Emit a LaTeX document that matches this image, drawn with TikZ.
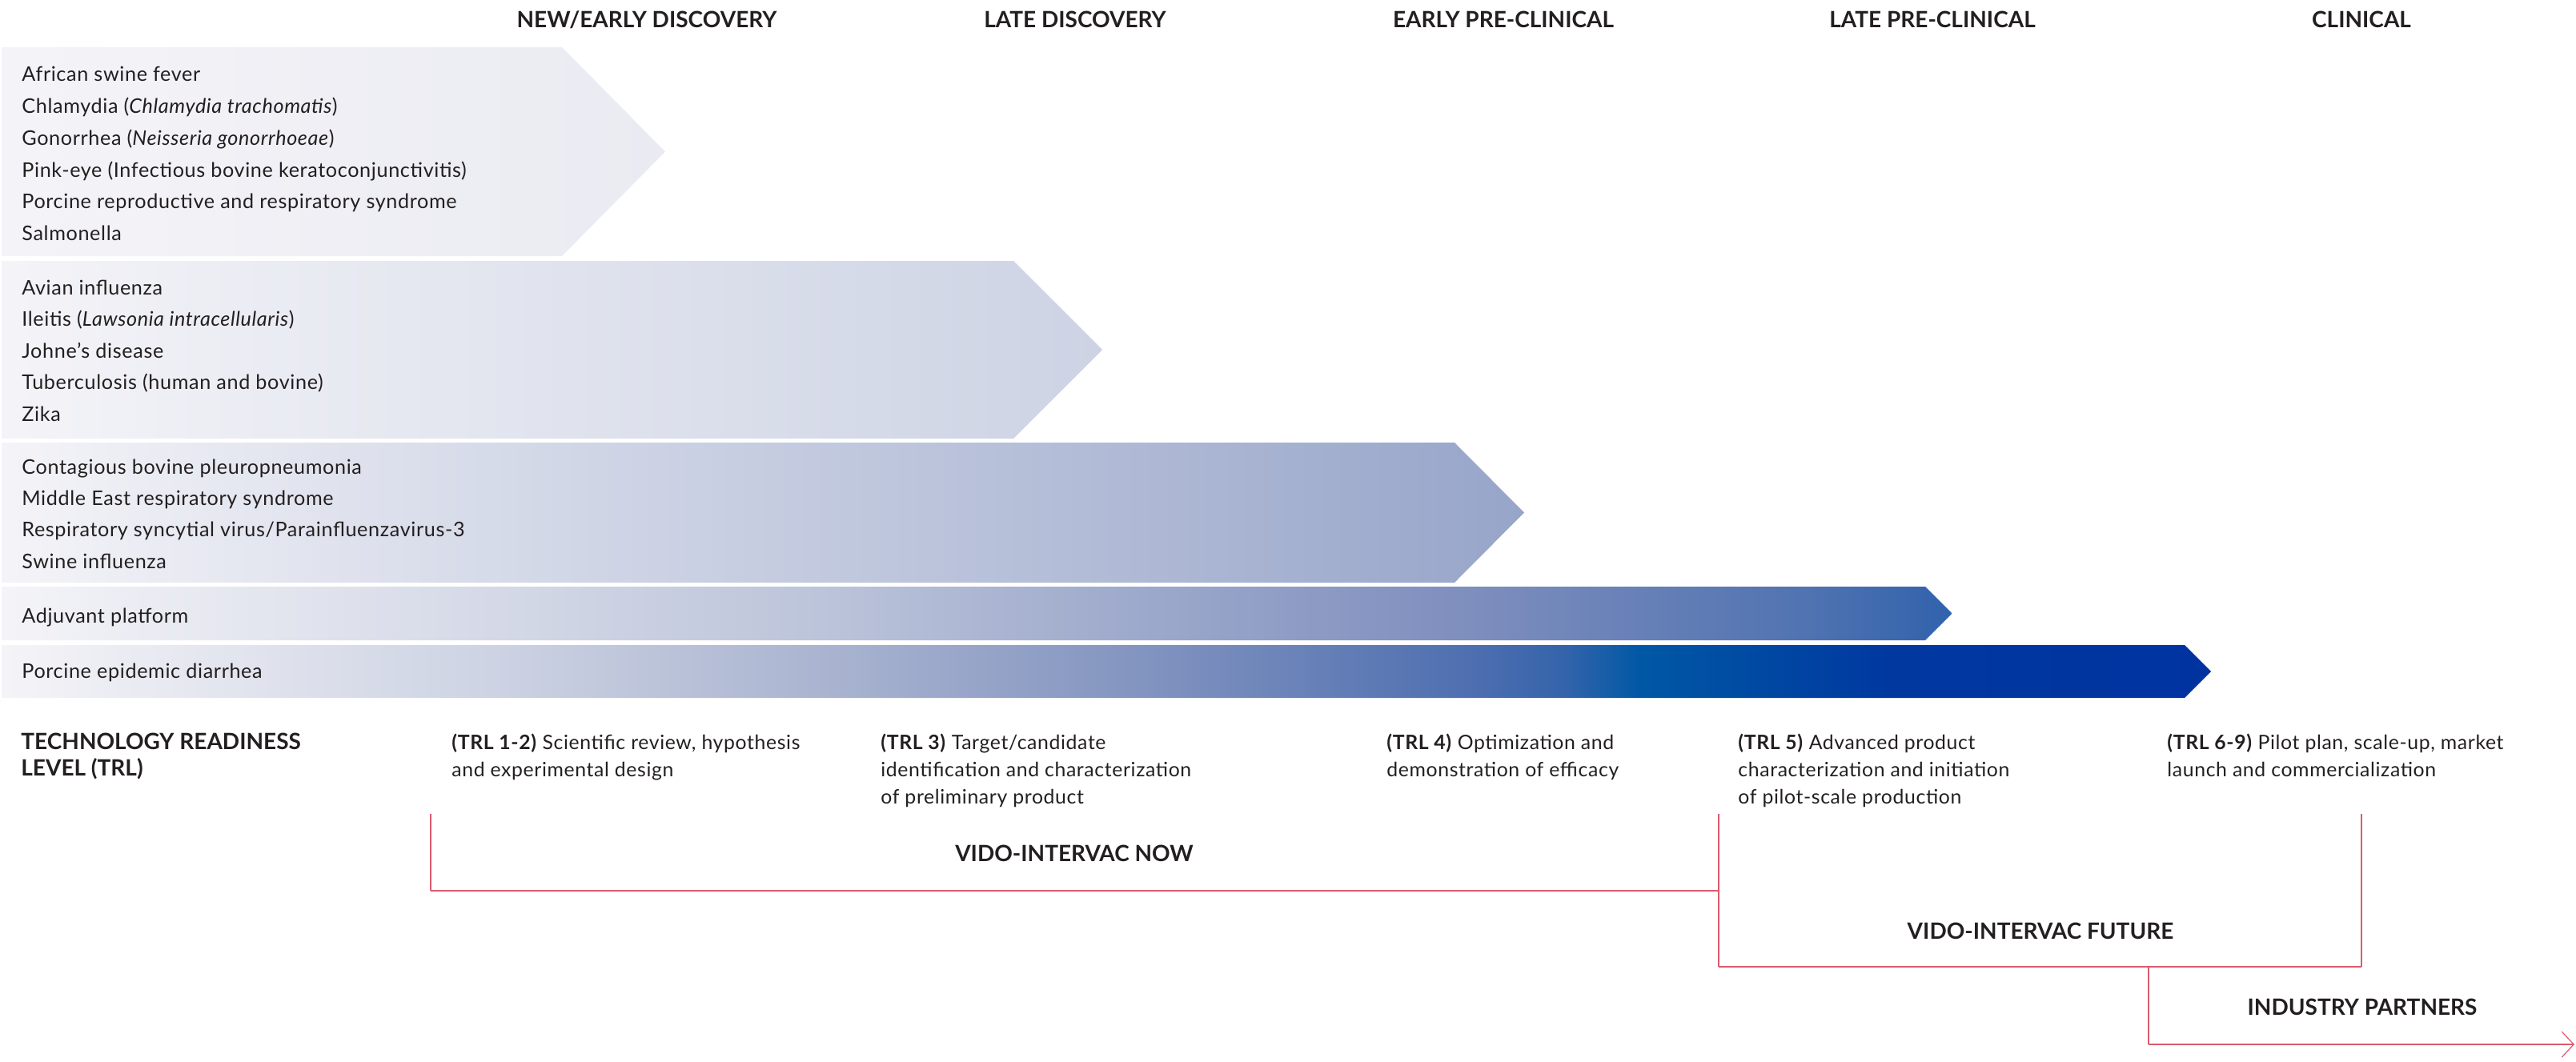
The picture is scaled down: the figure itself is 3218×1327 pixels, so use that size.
\documentclass[tikz,border=0pt]{standalone}
\usepackage{fontspec}
\setmainfont{Lato}
\newfontfamily\listfont{Lato}[LetterSpace=2.5]
\usetikzlibrary{arrows.meta}

\definecolor{txt}{HTML}{231F20}
\definecolor{vido}{HTML}{DC5A6E}
\definecolor{pale}{HTML}{F4F4F8}
% ends of the three short bars
\definecolor{c1}{HTML}{EAEAF2}
\definecolor{c2}{HTML}{CDD3E4}
\definecolor{c3}{HTML}{97A5C9}
% stops of the two long bars
\definecolor{c4a}{HTML}{D5D9E7}
\definecolor{c4b}{HTML}{BCC4DA}
\definecolor{c4c}{HTML}{9CA8CB}
\definecolor{c4d}{HTML}{7D8DBD}
\definecolor{c4e}{HTML}{5073B1}
\definecolor{c4f}{HTML}{3062AC}
\definecolor{c5a}{HTML}{E8E9F1}
\definecolor{c5b}{HTML}{CDD3E3}
\definecolor{c5c}{HTML}{AAB4D0}
\definecolor{c5d}{HTML}{8193BF}
\definecolor{c5e}{HTML}{4D6EB0}
\definecolor{c5f}{HTML}{3564AB}
\definecolor{c5g}{HTML}{0058A5}
\definecolor{c5h}{HTML}{0038A0}
\definecolor{c5i}{HTML}{0033A0}

\pgfdeclarehorizontalshading{barfour}{100bp}{color(0bp)=(pale); color(25bp)=(pale);
  color(37.6bp)=(c4a); color(46bp)=(c4b); color(54.5bp)=(c4c); color(62.9bp)=(c4d);
  color(71.3bp)=(c4e); color(75bp)=(c4f); color(100bp)=(c4f)}
\pgfdeclarehorizontalshading{barfive}{100bp}{color(0bp)=(pale); color(25bp)=(pale);
  color(28.7bp)=(c5a); color(36.1bp)=(c5b); color(43.6bp)=(c5c); color(51bp)=(c5d);
  color(58.4bp)=(c5e); color(60.3bp)=(c5f); color(62.1bp)=(c5g); color(67.7bp)=(c5h);
  color(75bp)=(c5i); color(100bp)=(c5i)}

\tikzset{
  item/.style={anchor=base west, inner sep=0, text=txt, font=\listfont\fontsize{12.6}{14}\selectfont},
  phase/.style={anchor=base, inner sep=0, text=txt, font=\bfseries\fontsize{14}{17}\selectfont},
  trl/.style={anchor=north west, inner sep=0, align=left, text=txt, font=\listfont\fontsize{12.4}{17}\selectfont},
  span/.style={vido, line width=0.6pt},
  spanbase/.style={vido, line width=1.1pt}
}

\begin{document}
\begin{tikzpicture}[x=0.5pt,y=-0.5pt]
  \useasboundingbox (0,0) rectangle (3218,1327);

  % Fases
  \node[phase] (ph1) at (808,35) {NEW/EARLY DISCOVERY};
  \node[phase] (ph2) at (1343,35) {LATE DISCOVERY};
  \node[phase] (ph3) at (1878,35) {EARLY PRE-CLINICAL};
  \node[phase] (ph4) at (2414,35) {LATE PRE-CLINICAL};
  \node[phase] (ph5) at (2950,35) {CLINICAL};

  % Barras
  \shade[left color=pale, right color=c1] (2,59) -- (702,59) -- (831,189.5) -- (702,320) -- (2,320) -- cycle;
  \shade[left color=pale, right color=c2] (2,326) -- (1266,326) -- (1377,437) -- (1266,548) -- (2,548) -- cycle;
  \shade[left color=pale, right color=c3] (2,553) -- (1817,553) -- (1904,640.5) -- (1817,728) -- (2,728) -- cycle;
  \shade[shading=barfour] (2,733) -- (2405,733) -- (2438.5,766.5) -- (2405,800) -- (2,800) -- cycle;
  \shade[shading=barfive] (2,806) -- (2729,806) -- (2762,839) -- (2729,872) -- (2,872) -- cycle;

  % Enfermedades
  \foreach \d [count=\i] in {African swine fever, Chlamydia (\textit{Chlamydia trachomatis}),
      Gonorrhea (\textit{Neisseria gonorrhoeae}), Pink-eye (Infectious bovine keratoconjunctivitis),
      Porcine reproductive and respiratory syndrome, Salmonella}
    \node[item] (one-\i) at (27,{102+39.7*(\i-1)}) {\d};
  \foreach \d [count=\i] in {Avian influenza, Ileitis (\textit{Lawsonia intracellularis}),
      Johne’s disease, Tuberculosis (human and bovine), Zika}
    \node[item] (two-\i) at (27,{368+39.6*(\i-1)}) {\d};
  \foreach \d [count=\i] in {Contagious bovine pleuropneumonia, Middle East respiratory syndrome,
      Respiratory syncytial virus/Parainfluenzavirus-3, Swine influenza}
    \node[item] (three-\i) at (27,{592+39.4*(\i-1)}) {\d};
  \node[item] (four-1) at (27,778) {Adjuvant platform};
  \node[item] (five-1) at (27,847) {Porcine epidemic diarrhea};

  % Niveles TRL
  \node[phase, anchor=north west, align=left, font=\bfseries\fontsize{14}{16.5}\selectfont] (trl) at (26,916) {TECHNOLOGY READINESS\\LEVEL (TRL)};
  \node[trl] (trl12) at (564,917) {\textbf{(TRL 1-2)} Scientific review, hypothesis\\and experimental design};
  \node[trl] (trl3) at (1100,917) {\textbf{(TRL 3)} Target/candidate\\identification and characterization\\of preliminary product};
  \node[trl] (trl4) at (1732,917) {\textbf{(TRL 4)} Optimization and\\demonstration of efficacy};
  \node[trl] (trl5) at (2171,917) {\textbf{(TRL 5)} Advanced product\\characterization and initiation\\of pilot-scale production};
  \node[trl] (trl69) at (2707,917) {\textbf{(TRL 6-9)} Pilot plan, scale-up, market\\launch and commercialization};

  % Tramos
  \coordinate (now-a) at (538,1017);
  \coordinate (now-b) at (538,1113);
  \coordinate (fut-a) at (2147,1017);
  \coordinate (fut-b) at (2147,1113);
  \coordinate (fut-c) at (2147,1208);
  \coordinate (fut-d) at (2950,1208);
  \coordinate (fut-e) at (2950,1017);
  \coordinate (ind-a) at (2684,1208);
  \coordinate (ind-b) at (2684,1305);
  \coordinate (ind-c) at (3216,1305);

  \draw[span] (now-a) -- (now-b);
  \draw[spanbase] (now-b) -- (fut-b);
  \draw[span] (fut-a) -- (fut-c);
  \draw[spanbase] (fut-c) -- (fut-d);
  \draw[span] (fut-d) -- (fut-e);
  \draw[span] (ind-a) -- (ind-b);
  \draw[spanbase, -{Straight Barb[length=7.5pt, width=16pt, line width=0.6pt]}] (ind-b) -- (ind-c);

  \node[phase] (now) at (1342,1076) {VIDO-INTERVAC NOW};
  \node[phase] (fut) at (2549,1173) {VIDO-INTERVAC FUTURE};
  \node[phase] (ind) at (2951,1268) {INDUSTRY PARTNERS};
\end{tikzpicture}
\end{document}
